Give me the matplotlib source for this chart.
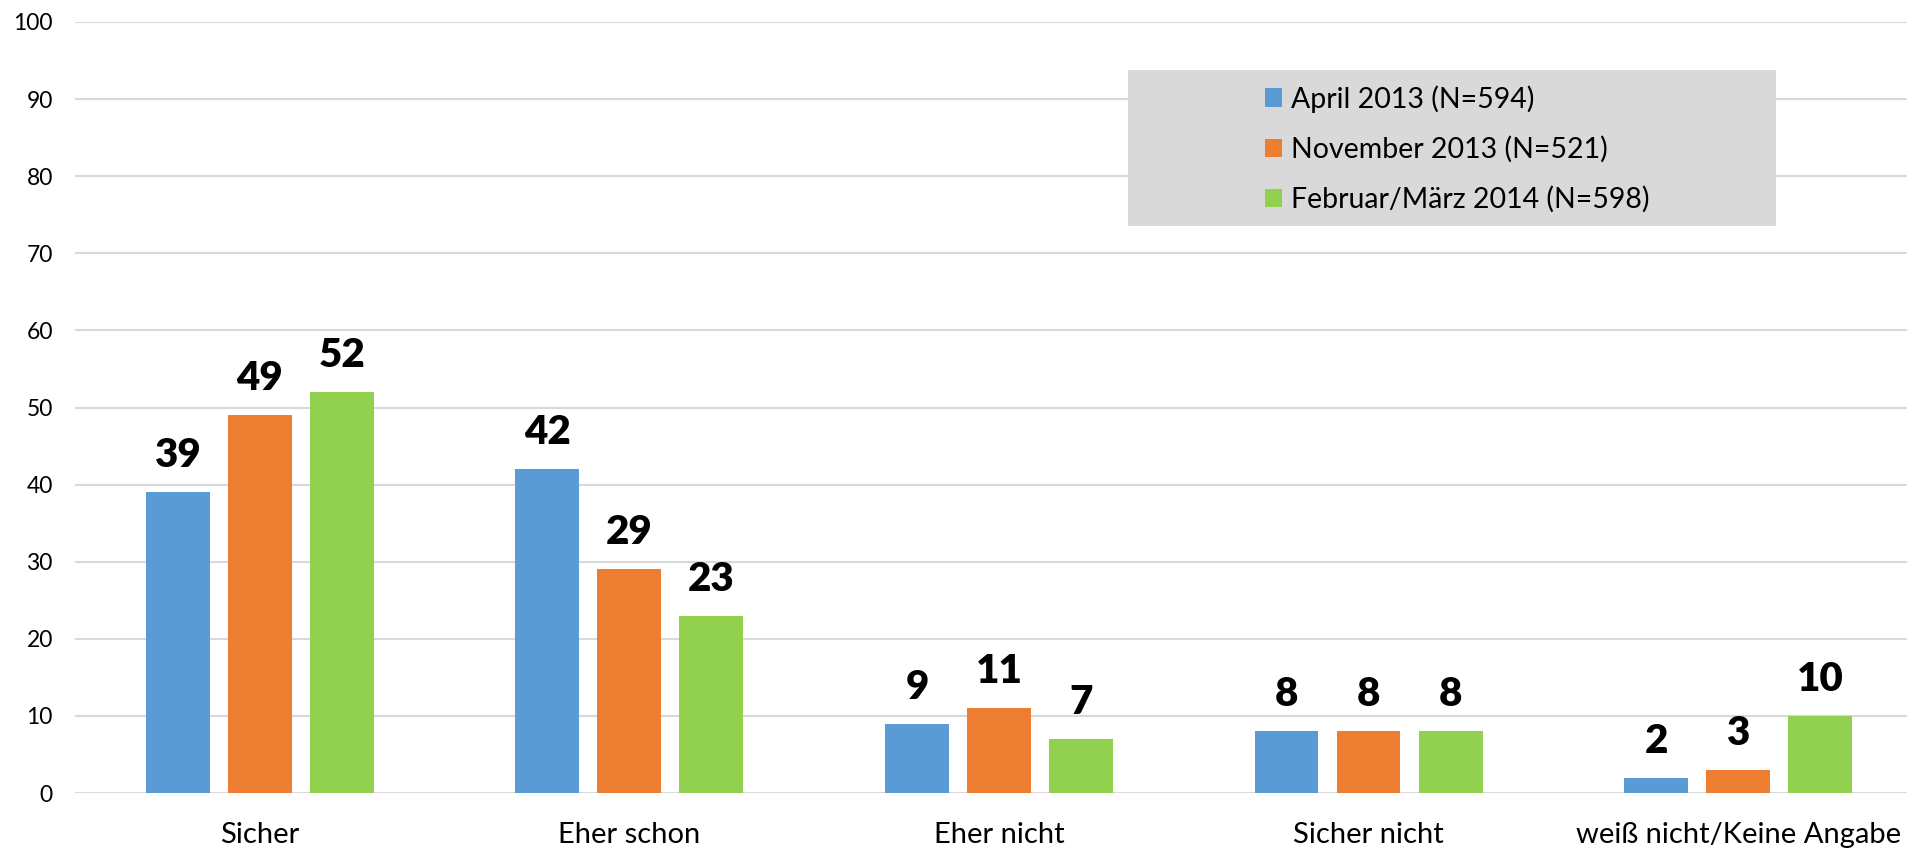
import numpy as np
import matplotlib
matplotlib.use("Agg")
import matplotlib.pyplot as plt
from matplotlib.patches import Rectangle

categories = ["Sicher", "Eher schon", "Eher nicht", "Sicher nicht", "weiß nicht/Keine Angabe"]
series_names = ["April 2013 (N=594)", "November 2013 (N=521)", "Februar/März 2014 (N=598)"]
april_2013 = [39, 42, 9, 8, 2]
nov_2013 = [49, 29, 11, 8, 3]
feb_2014 = [52, 23, 7, 8, 10]
colors = ["#5B9BD5", "#ED7D31", "#92D050"]

plt.rcParams['font.family'] = ['Lato', 'DejaVu Sans']

fig = plt.figure(figsize=(19.07, 8.51), dpi=100)
ax = fig.add_axes([75 / 1907, 58 / 851, 1 - 75 / 1907, (793 - 22) / 851])

x = np.arange(len(categories))
width = 0.173
step = 0.222
for i, (vals, name, col) in enumerate(zip([april_2013, nov_2013, feb_2014], series_names, colors)):
    pos = x + (i - 1) * step
    ax.bar(pos, vals, width, color=col, label=name, zorder=2)
    for xp, v in zip(pos, vals):
        ax.annotate(str(v), (xp, v), xytext=(0, 18), textcoords="offset points",
                    ha="center", va="baseline", fontsize=29, fontweight="heavy")

ax.set_ylim(0, 100)
ax.set_xlim(-0.5, 4.457)
ax.set_yticks(range(0, 101, 10))
ax.set_xticks(x)
ax.set_xticklabels(categories, fontsize=21)
ax.tick_params(axis="y", length=0, pad=16, labelsize=16.5)
ax.tick_params(axis="x", length=0, pad=21)
ax.grid(axis="y", color="#d9d9d9", linewidth=1.5, zorder=0)
for s in ax.spines.values():
    s.set_visible(False)

# grey legend background box
fig.patches.append(Rectangle((1128 / 1907, 1 - 226 / 851), (1776 - 1128) / 1907, (226 - 70) / 851,
                             transform=fig.transFigure, facecolor="#d9d9d9", edgecolor="none", zorder=3))
leg = fig.legend(loc="center", bbox_to_anchor=(1457 / 1907, 1 - 149 / 851),
                 frameon=False, fontsize=20.5, handlelength=0.62, handleheight=0.62,
                 handletextpad=0.3, labelspacing=0.82)
leg.set_zorder(4)

fig.savefig("out.png", dpi=100)
